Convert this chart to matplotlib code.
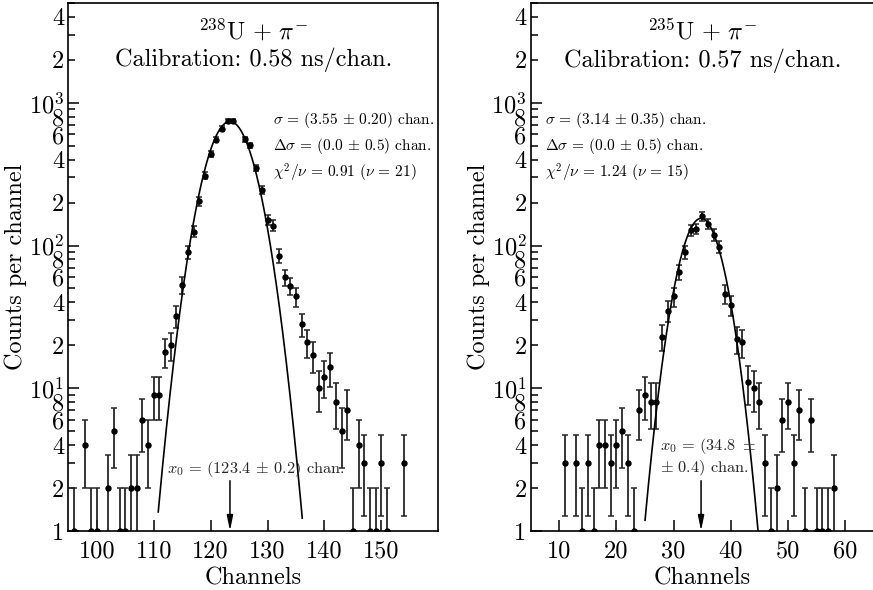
import numpy as np
import matplotlib
matplotlib.use('Agg')
import matplotlib.pyplot as plt
from matplotlib.ticker import FixedLocator, FuncFormatter

plt.rcParams['font.family'] = 'serif'
plt.rcParams['font.serif'] = ['cmr10', 'DejaVu Serif']
plt.rcParams['mathtext.fontset'] = 'cm'
plt.rcParams['axes.unicode_minus'] = False

# 238U + pi-  (счёт по каналам, ошибки - пуассоновские)
ch_238 = [96, 98, 99, 100, 102, 103, 104, 105, 106, 107, 108, 109, 110, 111,
          112, 113, 114, 115, 116, 117, 118, 119, 120, 121, 122, 123, 124,
          126, 127, 128, 129, 130, 131, 132, 133, 134, 135, 136, 137, 138,
          139, 140, 141, 142, 143, 144, 145, 146, 147, 148, 149, 150, 151, 154]
counts_238 = [1, 4, 1, 1, 2, 5, 1, 1, 2, 2, 6, 4, 9, 9,
              18, 20, 32, 53, 90, 125, 205, 308, 440, 551, 658, 745, 745,
              556, 503, 349, 246, 152, 138, 85, 60, 52, 44, 28, 21, 17,
              10, 12, 14, 8, 5, 7, 1, 4, 3, 1, 1, 3, 1, 3]

# 235U + pi-
ch_235 = [11, 13, 14, 15, 16, 17, 18, 19, 20, 21, 22, 23, 24, 25, 26, 27,
          28, 29, 30, 31, 32, 33, 34, 35, 36, 37, 38, 39, 40, 41, 42, 43,
          44, 45, 46, 47, 48, 49, 50, 51, 52, 53, 54, 55, 56, 57, 58]
counts_235 = [3, 3, 1, 3, 1, 4, 4, 3, 4, 5, 3, 1, 7, 9, 8, 8,
              23, 35, 44, 65, 90, 128, 131, 160, 142, 119, 98, 46, 38, 22, 21, 11,
              10, 8, 3, 1, 2, 6, 8, 3, 7, 1, 6, 1, 1, 1, 2]

# параметры гауссовой подгонки: амплитуда, x0, sigma, границы кривой
fit_238 = (740, 123.4, 3.55, 110.8, 136.1)
fit_235 = (155, 34.8, 3.14, 25.0, 44.8)

titles = [r'$^{238}\mathrm{U}\,+\,\pi^{-}$' + '\nCalibration: 0.58 ns/chan.',
          r'$^{235}\mathrm{U}\,+\,\pi^{-}$' + '\nCalibration: 0.57 ns/chan.']
stats = [r'$\sigma\,=\,(3.55\,\pm\,0.20)$ chan.' + '\n' +
         r'$\Delta\sigma\,=\,(0.0\,\pm\,0.5)$ chan.' + '\n' +
         r'$\chi^2/\nu\,=\,0.91\ (\nu\,=\,21)$',
         r'$\sigma\,=\,(3.14\,\pm\,0.35)$ chan.' + '\n' +
         r'$\Delta\sigma\,=\,(0.0\,\pm\,0.5)$ chan.' + '\n' +
         r'$\chi^2/\nu\,=\,1.24\ (\nu\,=\,15)$']
x0_texts = [r'$x_0\,=\,(123.4\,\pm\,0.2)$ chan.',
            r'$x_0\,=\,(34.8\ \pm$' + '\n' + r'$\pm\ 0.4)$ chan.']


def major_fmt(v, pos):
    n = int(round(np.log10(v)))
    return '1' if n == 0 else r'$10^{%d}$' % n


def minor_fmt(v, pos):
    m = int(round(v / 10 ** np.floor(np.log10(v) + 1e-9)))
    return str(m) if m in (2, 4, 6, 8) else ''


def draw_panel(ax, ch, counts, fit, xlim, xticks, title, stat, stat_x,
               x0_text, x0_pos, x0_ha):
    amp, x0, sig, lo, hi = fit
    counts = np.array(counts, dtype=float)
    ax.set_yscale('log')
    ax.errorbar(ch, counts, yerr=np.sqrt(counts), fmt='o', color='k',
                ecolor='0.15', ms=3.6, elinewidth=1.3, capsize=2.5, capthick=1.1)
    xs = np.linspace(lo, hi, 400)
    ax.plot(xs, amp * np.exp(-(xs - x0) ** 2 / (2 * sig ** 2)), color='k', lw=1.2)

    ax.set_xlim(*xlim)
    ax.set_ylim(1, 5000)
    ax.set_xticks(xticks)
    ax.yaxis.set_major_locator(FixedLocator([1, 10, 100, 1000]))
    ax.yaxis.set_minor_locator(FixedLocator(
        [m * 10 ** d for d in range(4) for m in range(2, 10)]))
    ax.yaxis.set_major_formatter(FuncFormatter(major_fmt))
    ax.yaxis.set_minor_formatter(FuncFormatter(minor_fmt))
    ax.tick_params(which='both', direction='in', labelsize=17.5, width=1.1,
                   top=False, right=False, pad=3)
    ax.tick_params(axis='x', pad=7)
    ax.tick_params(which='major', length=8)
    ax.tick_params(which='minor', length=5)
    for s in ax.spines.values():
        s.set_linewidth(1.2)

    ax.set_xlabel('Channels', fontsize=17.5, labelpad=3)
    ax.set_ylabel('Counts per channel', fontsize=17.5, labelpad=1)

    ax.text(0.5, 0.92, title, transform=ax.transAxes, ha='center', va='center',
            fontsize=17.5, linespacing=1.2)
    ax.text(stat_x, 0.727, stat, transform=ax.transAxes, ha='left', va='center',
            fontsize=11.1, linespacing=1.4)
    ax.text(x0_pos[0], x0_pos[1], x0_text, ha=x0_ha, va='center', fontsize=11.8,
            color='0.15', linespacing=1.25)
    ax.annotate('', xy=(x0, 1), xytext=(x0, 2.25),
                arrowprops=dict(arrowstyle='-|>,head_length=0.9,head_width=0.18',
                                color='k', lw=1.1, shrinkA=0, shrinkB=0))


fig = plt.figure(figsize=(8.73, 5.90), dpi=100)
ax1 = fig.add_axes([68.3 / 873, 1 - 531 / 590, 370 / 873, 528 / 590])
ax2 = fig.add_axes([530.7 / 873, 1 - 531 / 590, 343 / 873, 528 / 590])

draw_panel(ax1, ch_238, counts_238, fit_238, (95, 160),
           [100, 110, 120, 130, 140, 150], titles[0], stats[0], 0.553,
           x0_texts[0], (128, 2.72), 'center')
draw_panel(ax2, ch_235, counts_235, fit_235, (5, 65),
           [10, 20, 30, 40, 50, 60], titles[1], stats[1], 0.042,
           x0_texts[1], (27.6, 3.3), 'left')

fig.savefig('out.png', dpi=100)
